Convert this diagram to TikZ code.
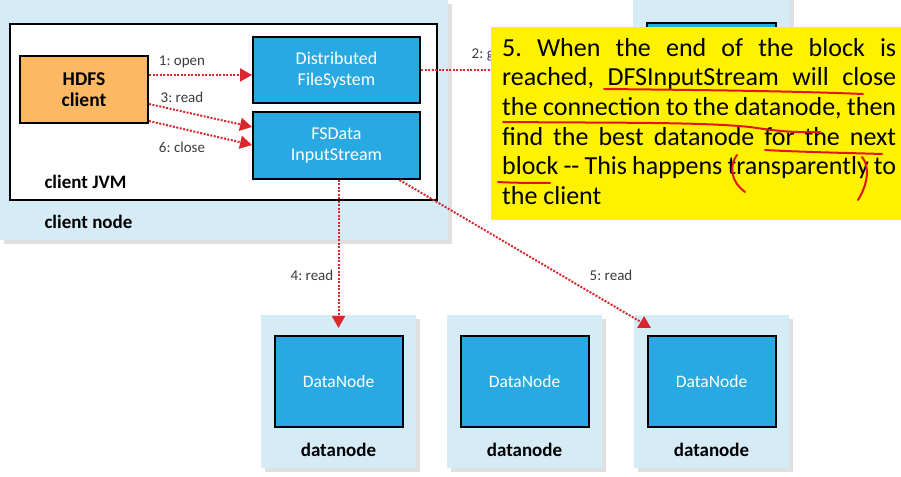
\documentclass[tikz,border=0pt]{standalone}
\usepackage{fontspec}
\setmainfont{Carlito}
\usetikzlibrary{arrows.meta,shadows}

\definecolor{hostblue}{HTML}{D5EBF6}
\definecolor{procblue}{HTML}{29A9E1}
\definecolor{clientorange}{HTML}{FDB863}
\definecolor{callred}{HTML}{D8282E}
\definecolor{labelgray}{HTML}{3A3A3A}
\definecolor{penred}{HTML}{E3151B}

\begin{document}
\frenchspacing
\begin{tikzpicture}[x=1pt,y=1pt,
	host/.style={fill=hostblue,draw=none,drop shadow={shadow xshift=4pt,shadow yshift=-4pt,opacity=0.25}},
	proc/.style={fill=procblue,draw=black,line width=2pt,text=white,align=center,font=\fontsize{18}{21}\selectfont},
	call/.style={callred,line width=2pt,dash pattern=on 2pt off 1.5pt,-{Triangle[length=12pt,width=13pt]}},
	calllabel/.style={text=labelgray,font=\fontsize{15}{17}\selectfont},
	hostlabel/.style={font=\bfseries\fontsize{19}{21}\selectfont},
	pen/.style={penred,line width=2pt,line cap=round,line join=round}]

	\useasboundingbox (0,0) rectangle (901,476);

	% client node and JVM
	\node[host,minimum width=448pt,minimum height=240pt,anchor=north west] (cnode) at (0,476) {};
	\node[draw=black,fill=white,line width=2pt,minimum width=427pt,minimum height=176pt,anchor=north west] (jvm) at (9,453) {};

	\node[fill=clientorange,draw=black,line width=2pt,minimum width=128pt,minimum height=67pt,align=center,font=\bfseries\fontsize{19.5}{21}\selectfont] (hdfs) at (84,386) {HDFS\\client};
	\node[proc,minimum width=167pt,minimum height=66pt] (dfs) at (336.5,406) {Distributed\\FileSystem};
	\node[proc,minimum width=167pt,minimum height=67pt] (fsd) at (336.5,330.5) {FSData\\InputStream};

	\node[hostlabel,anchor=west] (jvmlabel) at (41,294) {client JVM};
	\node[hostlabel,anchor=west] (cnodelabel) at (41,254) {client node};

	% datanodes
	\foreach \i/\x in {1/338.5,2/524.5,3/711.5} {
		\node[host,minimum width=155pt,minimum height=152pt] (dn\i) at (\x,84.5) {};
		\node[proc,minimum width=128pt,minimum height=91pt,font=\fontsize{17.5}{20}\selectfont] (dni\i) at (\x,94.5) {DataNode};
		\node[hostlabel] (dnl\i) at (\x,26) {datanode};
	}

	% namenode, mostly hidden
	\node[host,minimum width=157pt,minimum height=60pt,anchor=north] (nn) at (711.5,490) {};
	\node[proc,minimum width=129pt,minimum height=40pt,anchor=north] (nni) at (711.5,454) {};

	% calls
	\draw[call] ([yshift=15pt]hdfs.east) -- ([yshift=-5pt]dfs.west);
	\draw[call] ([yshift=-14pt]hdfs.east) -- ([yshift=18.5pt]fsd.west);
	\draw[call] ([yshift=-31pt]hdfs.east) -- ([yshift=0.5pt]fsd.west);
	\coordinate (getend) at (560,406);
	\draw[callred,line width=2pt,dash pattern=on 2pt off 1.5pt] (dfs.east) -- (getend);
	\draw[call] (dni1.north |- fsd.south) -- ([yshift=7pt]dni1.north);
	\draw[call] ([xshift=63pt]fsd.south) -- ([xshift=4.5pt,yshift=7pt]dni3.north west);

	\node[calllabel] (l1) at (182,414) {1: open};
	\node[calllabel] (l3) at (182,379) {3: read};
	\node[calllabel] (l6) at (182,329) {6: close};
	\node[calllabel,anchor=east,inner xsep=0pt] (l2) at (494,421) {2: g};
	\node[calllabel] (l4) at (312,201) {4: read};
	\node[calllabel] (l5) at (611,201) {5: read};

	% note
	\node[fill=yellow,minimum width=410pt,minimum height=193pt,anchor=north west,inner sep=0pt] (note) at (491,449.5) {};
	\node[anchor=north west,inner sep=0pt,text width=394pt,align=justify,font=\fontsize{26}{29.6}\selectfont] (notetext) at (502,438) {5. When the end of the block is\linebreak reached, DFSInputStream will close\linebreak the connection to the datanode, then\linebreak find the best datanode for the next\linebreak block -{}- This happens transparently to\linebreak the client};

	% pen marks
	\draw[pen] (604,387) .. controls (700,386) and (790,385) .. (863,382);
	\draw[pen] (503,354) .. controls (620,353) and (700,354) .. (750,349) .. controls (770,346) and (790,343) .. (820,344);
	\draw[pen] (765,326) .. controls (800,324) and (850,323) .. (882,322);
	\draw[pen] (498,294) .. controls (515,293) and (535,293) .. (550,293);
	\draw[pen] (737,321) .. controls (730,312) and (729,296) .. (745,284);
	\draw[pen] (862,319) .. controls (870,310) and (868,292) .. (858,276);

\end{tikzpicture}
\end{document}
